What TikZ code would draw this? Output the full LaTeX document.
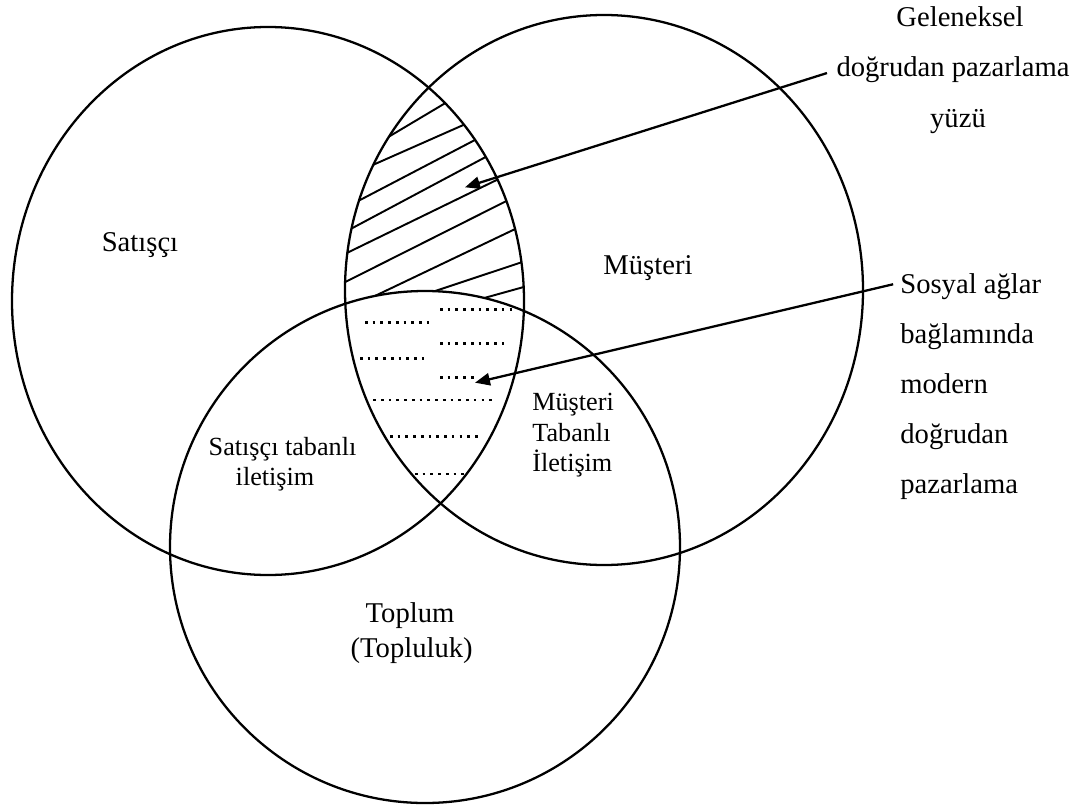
\documentclass[tikz,border=0pt]{standalone}
\usepackage{fontspec}
\setmainfont{Liberation Serif}
\usetikzlibrary{arrows.meta}
\begin{document}
\begin{tikzpicture}[x=0.02cm,y=-0.02cm,
  ring/.style={line width=1.3pt},
  hatchline/.style={line width=1.1pt},
  dotrow/.style={line width=1.6pt, dash pattern=on 1.5pt off 2.9pt},
  pointer/.style={line width=1.3pt, -{Triangle[length=8.5pt,width=7pt]}},
  biglabel/.style={font=\fontsize{16.3}{19}\selectfont, inner sep=0pt, anchor=base},
  bigleft/.style={biglabel, anchor=base west},
  smalllabel/.style={font=\fontsize{14.9}{18}\selectfont, inner sep=0pt, anchor=base},
  smallleft/.style={smalllabel, anchor=base west},
]
\useasboundingbox (0,0) rectangle (1088,811);

% Seller / customer overlap: diagonal hatching above the community circle
\begin{scope}
  \clip (268,301) ellipse [x radius=256, y radius=274];
  \clip (604,290) ellipse [x radius=259, y radius=275];
  \foreach \ya/\yb in {171.7/40.8, 183.9/86.7, 215.7/100.8, 240/122.7,
                       261.2/154, 289.7/179.1, 317.4/212.4, 326/252.8, 340.9/279.7}
    \draw[hatchline] (330,\ya) -- (550,\yb);
  \fill[white] (425,547) ellipse [x radius=255, y radius=256];
\end{scope}

% Dotted rows inside the triple overlap
\draw[dotrow] (440,309.3) -- (516.7,309.3);
\draw[dotrow] (365,322.3) -- (431.7,322.3);
\draw[dotrow] (440,343.3) -- (508.3,343.3);
\draw[dotrow] (360,358.7) -- (426.7,358.7);
\draw[dotrow] (440,377.7) -- (478,377.7);
\draw[dotrow] (373.3,400) -- (496.7,400);
\draw[dotrow] (390,436.7) -- (481.7,436.7);
\draw[dotrow] (415,474) -- (465,474);

% The three circles
\draw[ring] (268,301) ellipse [x radius=256, y radius=274];
\draw[ring] (604,290) ellipse [x radius=259, y radius=275];
\draw[ring] (425,547) ellipse [x radius=255, y radius=256];

% Circle labels
\node[biglabel] (seller) at (140,251) {Satışçı};
\node[biglabel] (customer) at (648,274) {Müşteri};
\node[biglabel] (soc1) at (410,622) {Toplum};
\node[biglabel] (soc2) at (411.7,657) {(Topluluk)};

% Overlap labels
\node[smalllabel] (sbase1) at (282.5,455) {Satışçı tabanlı};
\node[smalllabel] (sbase2) at (275,485) {iletişim};
\node[smallleft] (mbase1) at (532,410) {Müşteri};
\node[smallleft] (mbase2) at (532,441) {Tabanlı};
\node[smallleft] (mbase3) at (532,471) {İletişim};

% Callout labels
\node[biglabel] (trad1) at (960,27) {Geleneksel};
\node[biglabel] (trad2) at (953,77) {doğrudan pazarlama};
\node[biglabel] (trad3) at (958,128) {yüzü};

\node[bigleft] (net1) at (900,293) {Sosyal ağlar};
\node[bigleft] (net2) at (900,343) {bağlamında};
\node[bigleft] (net3) at (900,393) {modern};
\node[bigleft] (net4) at (900,443) {doğrudan};
\node[bigleft] (net5) at (900,493) {pazarlama};

% Pointers into the two zones
\coordinate (tip1) at (465,187.3);
\coordinate (tip2) at (475,382.7);
\draw[pointer, shorten <=5.5pt] (trad2.west) -- (tip1);
\draw[pointer, shorten <=4pt] ([yshift=2pt]net1.west) -- (tip2);
\end{tikzpicture}
\end{document}
